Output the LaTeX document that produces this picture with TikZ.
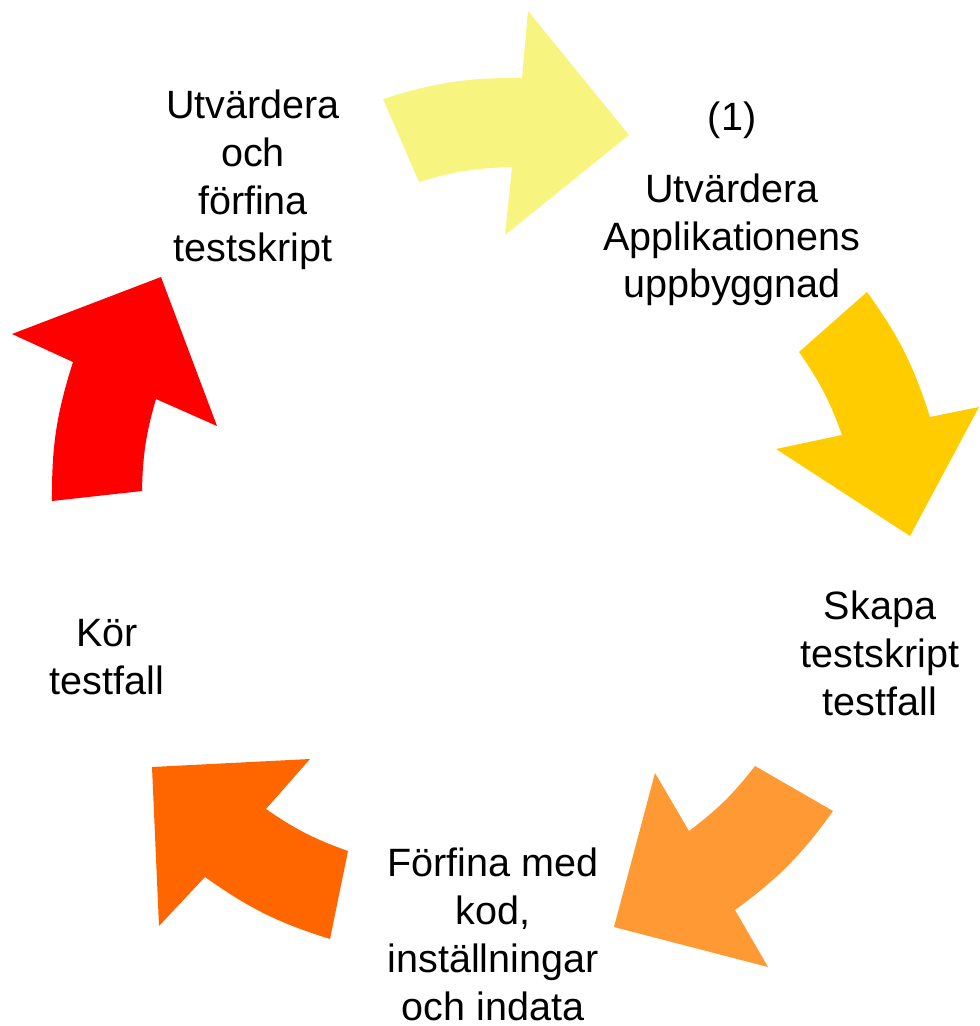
\documentclass[tikz,border=0pt]{standalone}
\usepackage{fontspec}
\setmainfont{Liberation Sans}
\usepackage{tikz}

\definecolor{cycleA}{HTML}{F7F47F}
\definecolor{cycleB}{HTML}{FFCC00}
\definecolor{cycleC}{HTML}{FF9933}
\definecolor{cycleD}{HTML}{FF6600}
\definecolor{cycleE}{HTML}{FF0000}

\begin{document}
\begin{tikzpicture}[x=0.02cm, y=-0.02cm,
	outer/.style={bend left=9},
	inner/.style={bend right=7.5},
	phase/.style={align=center, anchor=base, inner sep=0pt, font=\fontsize{22.5}{27.2}\selectfont}]
	\useasboundingbox (0,0) rectangle (979,1026);
	% Arrows of the cycle:
	\fill[cycleA] (383,99) to[outer] (522,78) -- (528,11) -- (629,135) -- (505,235) -- (512,167) to[inner] (419,182) -- cycle;
	\fill[cycleB] (867,292) to[outer] (930,417) -- (979,407) -- (910,536) -- (776,449) -- (842,435) to[inner] (799,352) -- cycle;
	\fill[cycleC] (833,811) to[outer] (735,910) -- (768,967) -- (614,927) -- (655,773) -- (689,831) to[inner] (755,766) -- cycle;
	\fill[cycleD] (330,939) to[outer] (205,877) -- (159,926) -- (152,767) -- (310,759) -- (266,809) to[inner] (348,851) -- cycle;
	\fill[cycleE] (52,501) to[outer] (73,362) -- (12,334) -- (161,277) -- (217,426) -- (156,399) to[inner] (142,491) -- cycle;
	% Texts (base = last line):
	\node[phase] (T1) at (253,262) {Utvärdera\\och\\förfina\\testskript};
	\node[phase] (T2) at (732,298) {(1)\\[13.6pt]Utvärdera\\Applikationens\\uppbyggnad};
	\node[phase] (T3) at (880,715) {Skapa\\testskript\\testfall};
	\node[phase] (T4) at (493,1020) {Förfina med\\kod,\\inställningar\\och indata};
	\node[phase] (T5) at (107,694) {Kör\\testfall};
\end{tikzpicture}
\end{document}
